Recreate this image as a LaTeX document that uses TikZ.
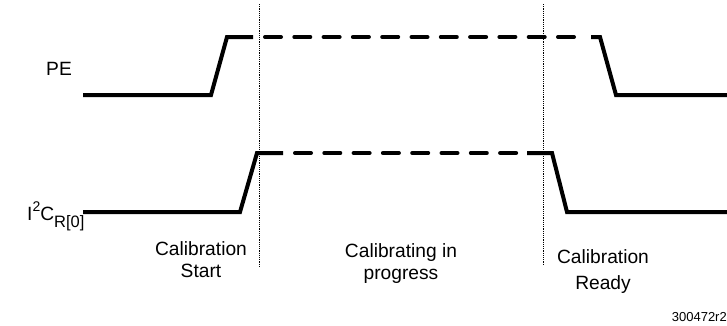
\documentclass[tikz,border=0pt]{standalone}
\usepackage{fontspec}
\setmainfont{Liberation Sans}
\begin{document}
\begin{tikzpicture}[x=1pt,y=-1pt,
  signal/.style={line width=4pt,line join=miter},
  dashsig/.style={line width=4pt,line cap=round,dash pattern=on 16pt off 13.3pt},
  marker/.style={line width=1pt,dash pattern=on 1.2pt off 1pt},
  lbl/.style={font=\fontsize{19.2}{21}\selectfont,inner sep=0pt,anchor=base},
  small/.style={font=\fontsize{13}{15}\selectfont,inner sep=0pt}]
\useasboundingbox (0,0) rectangle (727,325);
% PE signal
\coordinate (pe0) at (83,95);
\coordinate (pe1) at (211,95);
\coordinate (pe2) at (227,37);
\coordinate (pe3) at (253,37);
\coordinate (pe4) at (265,37);
\coordinate (pe5) at (575,37);
\coordinate (pe6) at (591,37);
\coordinate (pe7) at (600,37);
\coordinate (pe8) at (616,95);
\coordinate (pe9) at (727,95);
\draw[signal] (pe0) -- (pe1) -- (pe2) -- (pe3);
\draw[dashsig] (pe4) -- (pe5);
\draw[signal] (pe6) -- (pe7) -- (pe8) -- (pe9);
% I2C signal
\coordinate (ic0) at (83,212);
\coordinate (ic1) at (240,212);
\coordinate (ic2) at (257,153);
\coordinate (ic3) at (283,153);
\coordinate (ic4) at (295,153);
\coordinate (ic5) at (518,153);
\coordinate (ic6) at (527,153);
\coordinate (ic7) at (552,153);
\coordinate (ic8) at (567,212);
\coordinate (ic9) at (727,212);
\draw[signal] (ic0) -- (ic1) -- (ic2) -- (ic3);
\draw[dashsig] (ic4) -- (ic5);
\draw[signal] (ic6) -- (ic7) -- (ic8) -- (ic9);
% markers
\coordinate (m1a) at (259,4);
\coordinate (m1b) at (259,268);
\coordinate (m2a) at (543,4);
\coordinate (m2b) at (543,265);
\draw[marker] (m1a) -- (m1b);
\draw[marker] (m2a) -- (m2b);
% labels
\node[lbl,anchor=base west] (pe) at (46,75) {PE};
\node[lbl,anchor=base west] (ic) at (27,220) {I\raisebox{0.42em}{\fontsize{14}{14}\selectfont 2}C\raisebox{-0.38em}{\fontsize{16.5}{17}\selectfont R[0]}};
\node[lbl] (cs1) at (201,255) {Calibration};
\node[lbl] (cs2) at (201,277) {Start};
\node[lbl] (cp1) at (401,257) {Calibrating in};
\node[lbl] (cp2) at (401,279) {progress};
\node[lbl] (cr1) at (603,263) {Calibration};
\node[lbl] (cr2) at (603,289) {Ready};
\node[small,anchor=base east] (ref) at (727,321) {300472r2};
\end{tikzpicture}
\end{document}
